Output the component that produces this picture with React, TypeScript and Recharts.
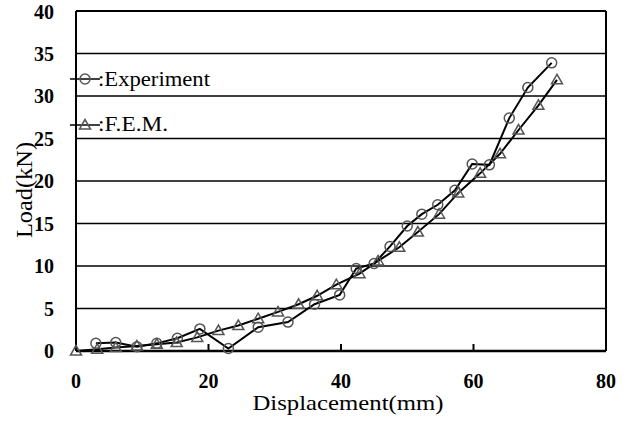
import React from 'react';
import {
  LineChart,
  Line,
  XAxis,
  YAxis,
  CartesianGrid,
  ReferenceLine,
  Label,
} from 'recharts';

// Experiment (circles) and F.E.M. (triangles), displacement in mm, load in kN
const expX = [3, 6, 9.2, 12.2, 15.3, 18.7, 23, 27.5, 32, 36, 39.8, 42.3, 45, 47.4, 50, 52.2, 54.6, 57.2, 59.8, 62.4, 65.4, 68.2, 71.8];
const expY = [0.9, 1.0, 0.5, 0.9, 1.5, 2.6, 0.3, 2.8, 3.4, 5.5, 6.6, 9.7, 10.3, 12.3, 14.7, 16.1, 17.2, 18.9, 22.0, 21.9, 27.4, 31.0, 33.9];

const femX = [0, 3.2, 6, 9.2, 12.2, 15.2, 18.3, 21.5, 24.5, 27.5, 30.5, 33.6, 36.4, 39.3, 42.8, 45.6, 48.8, 51.6, 54.8, 57.7, 61, 64, 66.8, 69.8, 72.6];
const femY = [0, 0.2, 0.4, 0.6, 0.8, 1.0, 1.6, 2.4, 3.0, 3.8, 4.6, 5.5, 6.5, 7.8, 9.1, 10.6, 12.2, 14.0, 16.1, 18.6, 20.9, 23.2, 26.0, 28.9, 31.9];

const xTicks = [0, 20, 40, 60, 80];
const yTicks = [0, 5, 10, 15, 20, 25, 30, 35, 40];

const expData = expX.map((x, i) => ({ x, y: expY[i] }));
const femData = femX.map((x, i) => ({ x, y: femY[i] }));

const FONT = '"Liberation Serif", "Times New Roman", serif';
const MARK = '#555';

const Circle = ({ cx, cy }: any) => (
  <circle cx={cx} cy={cy} r={5} fill="none" stroke={MARK} strokeWidth={1.5} />
);

const Triangle = ({ cx, cy }: any) => (
  <polygon
    points={`${cx},${cy - 5.5} ${cx - 5.5},${cy + 4} ${cx + 5.5},${cy + 4}`}
    fill="none"
    stroke={MARK}
    strokeWidth={1.5}
  />
);

// x ticks: short inner tick line going up, bold label below
const XTick = ({ x, y, payload }: any) => (
  <g>
    {payload.value > 0 && payload.value < 80 && (
      <line x1={x} x2={x} y1={y} y2={y - 7} stroke="#000" strokeWidth={2} />
    )}
    <text x={x} y={y + 37} textAnchor="middle" fontFamily={FONT} fontWeight="bold" fontSize={20} fill="#000">
      {payload.value}
    </text>
  </g>
);

const LegendBox = () => (
  <svg width={160} height={70} style={{ position: 'absolute', left: 70, top: 69 }}>
    <line x1={0} x2={30} y1={10} y2={10} stroke="#000" strokeWidth={1.5} />
    <Circle cx={15} cy={10} />
    <text x={28} y={17} fontFamily={FONT} fontSize={20} fill="#000" textLength={112} lengthAdjust="spacingAndGlyphs">
      :Experiment
    </text>
    <line x1={0} x2={30} y1={56} y2={56} stroke="#000" strokeWidth={1.5} />
    <Triangle cx={15} cy={56} />
    <text x={28} y={62} fontFamily={FONT} fontSize={20} fill="#000" textLength={70} lengthAdjust="spacingAndGlyphs">
      :F.E.M.
    </text>
  </svg>
);

export default function App() {
  return (
    <div style={{ position: 'absolute', left: 0, top: 0, width: 629, height: 434, background: '#fff' }}>
      <LineChart width={629} height={434} margin={{ top: 11, right: 23, left: 0, bottom: 0 }}>
        <CartesianGrid vertical={false} stroke="#000" strokeWidth={1.5} />
        <XAxis
          type="number"
          dataKey="x"
          domain={[0, 80]}
          ticks={xTicks}
          height={83}
          tickSize={0}
          tickMargin={0}
          tickLine={false}
          axisLine={{ stroke: '#000', strokeWidth: 2.5 }}
          tick={<XTick />}
        >
          <Label
            content={() => (
              <text x={348} y={410} textAnchor="middle" fontFamily={FONT} fontSize={21} fill="#000" textLength={191} lengthAdjust="spacingAndGlyphs">
                Displacement(mm)
              </text>
            )}
          />
        </XAxis>
        <YAxis
          type="number"
          domain={[0, 40]}
          ticks={yTicks}
          width={76}
          tickSize={0}
          tickMargin={22}
          tickLine={false}
          axisLine={{ stroke: '#000', strokeWidth: 2 }}
          tick={{ fill: '#000', fontSize: 20, fontWeight: 'bold', fontFamily: FONT }}
        >
          <Label
            content={() => (
              <text
                x={24}
                y={190}
                transform="rotate(-90 24 190)"
                textAnchor="middle"
                dominantBaseline="central"
                fontFamily={FONT}
                fontSize={23}
                fill="#000"
                textLength={96}
                lengthAdjust="spacingAndGlyphs"
              >
                Load(kN)
              </text>
            )}
          />
        </YAxis>
        <ReferenceLine x={80} stroke="#000" strokeWidth={2} />
        <ReferenceLine y={40} stroke="#000" strokeWidth={2} />
        <Line
          data={femData}
          dataKey="y"
          name="F.E.M."
          stroke="#000"
          strokeWidth={2}
          dot={(p: any) => <Triangle key={`f${p.index}`} cx={p.cx} cy={p.cy} />}
          isAnimationActive={false}
        />
        <Line
          data={expData}
          dataKey="y"
          name="Experiment"
          stroke="#000"
          strokeWidth={2}
          dot={(p: any) => <Circle key={`e${p.index}`} cx={p.cx} cy={p.cy} />}
          isAnimationActive={false}
        />
      </LineChart>
      <LegendBox />
    </div>
  );
}
